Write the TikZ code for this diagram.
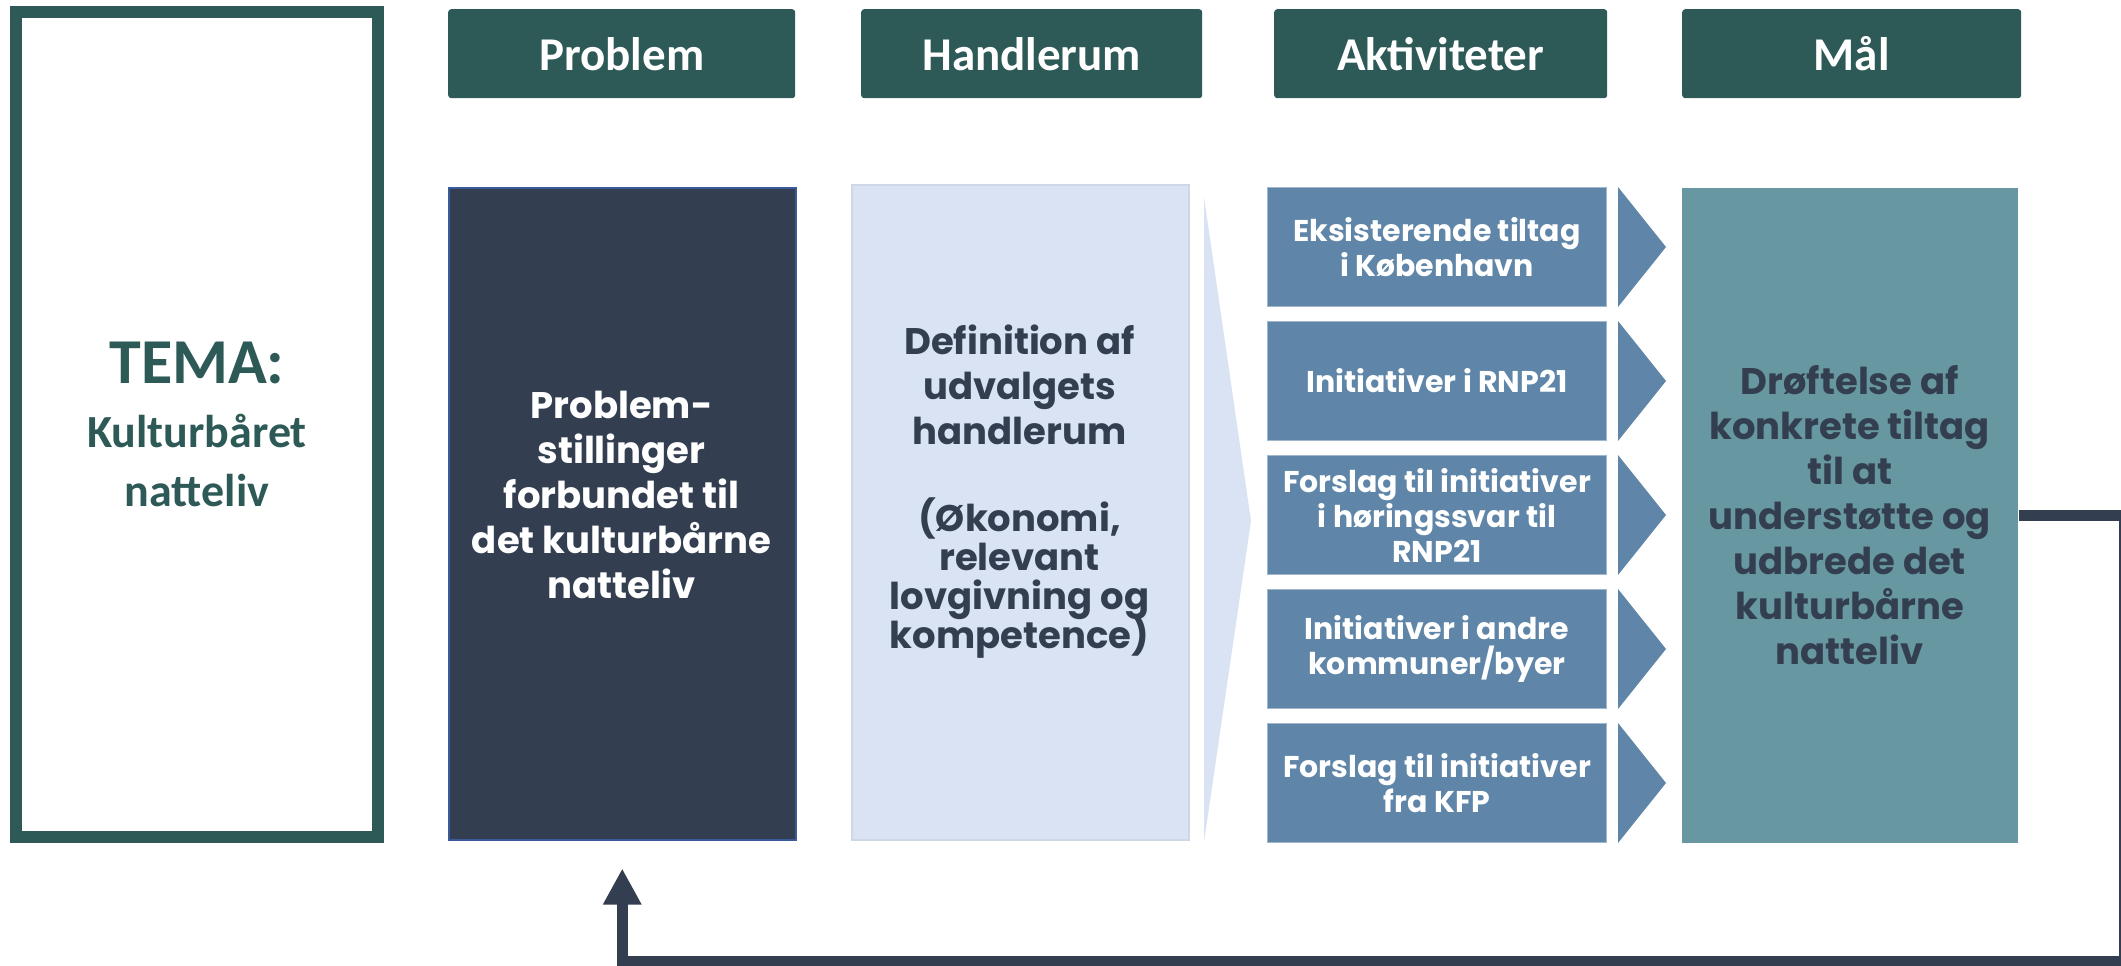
\documentclass[tikz,border=0pt]{standalone}
\usepackage{fontspec}
\usetikzlibrary{arrows.meta}
\newfontfamily\headfont{Carlito}
\newfontfamily\boxfont{Poppins}
\definecolor{temagreen}{HTML}{2D5A57}
\definecolor{probnavy}{HTML}{333F51}
\definecolor{probedge}{HTML}{3B5A9A}
\definecolor{roomblue}{HTML}{DAE3F3}
\definecolor{roomedge}{HTML}{CED7E6}
\definecolor{actblue}{HTML}{5F86A8}
\definecolor{goalteal}{HTML}{6797A0}

\begin{document}
\begin{tikzpicture}[x=1pt, y=-1pt,
    hdbox/.style={fill=temagreen, rounded corners=3pt, anchor=north west,
      minimum height=89pt, inner sep=0pt, text=white,
      font=\headfont\bfseries\fontsize{47}{52}\selectfont},
    bigbox/.style={anchor=north west, inner sep=0pt, line width=1.5pt},
    boxtext/.style={align=center, anchor=north, inner sep=0pt,
      font=\boxfont\bfseries\fontsize{37}{45}\selectfont},
    actbox/.style={fill=actblue, draw=actblue!60!white, line width=1pt,
      anchor=north west, minimum width=339pt, minimum height=119pt,
      inner sep=0pt, align=center, text=white,
      font=\boxfont\bfseries\fontsize{30}{35}\selectfont},
    fbline/.style={draw=probnavy, line width=11pt,
      -{Triangle[length=36pt, width=36pt]}}]
  \useasboundingbox (0,0) rectangle (2121,966);

  % Tema frame
  \node[draw=temagreen, line width=12pt, minimum width=362pt, minimum height=825pt,
    align=center, text=temagreen, font=\headfont\bfseries\fontsize{46}{59}\selectfont]
    (tema) at (197,424.5)
    {{\fontsize{64}{70}\selectfont TEMA:}\\[5pt]Kulturbåret\\natteliv};

  % column headers
  \node[hdbox, minimum width=347pt] (hprob) at (448,9) {Problem};
  \node[hdbox, minimum width=341pt] (hroom) at (861,9) {Handlerum};
  \node[hdbox, minimum width=333pt] (hact) at (1274,9) {Aktiviteter};
  \node[hdbox, minimum width=339pt] (hgoal) at (1682,9) {Mål};

  % Problem box
  \node[bigbox, fill=probnavy, draw=probedge, minimum width=347pt, minimum height=652pt]
    (prob) at (448,187) {};
  \node[boxtext, text=white] (probtxt) at (621.5,391)
    {Problem-\\stillinger\\forbundet til\\det kulturbårne\\natteliv};

  % Handlerum box and chevron
  \node[bigbox, fill=roomblue, draw=roomedge, minimum width=337pt, minimum height=655pt]
    (room) at (851,184) {};
  \node[boxtext, text=probnavy] (roomtxt) at (1019.5,325)
    {Definition af\\udvalgets\\handlerum\\[42pt](Økonomi,\\[-6pt]relevant\\[-6pt]lovgivning og\\[-6pt]kompetence)};
  \fill[roomblue] (1204,197) -- (1251,521) -- (1204,842) -- cycle;

  % activities with small arrows
  \foreach \i/\txt in {1/{Eksisterende tiltag\\i København},
      2/{Initiativer i RNP21},
      3/{Forslag til initiativer\\i høringssvar til\\RNP21},
      4/{Initiativer i andre\\kommuner/byer},
      5/{Forslag til initiativer\\fra KFP}} {
    \node[actbox] (a\i) at (1267,{187+(\i-1)*134}) {\txt};
    \fill[actblue] ([xshift=11pt]a\i.north east) -- ([xshift=59pt]a\i.east)
      -- ([xshift=11pt]a\i.south east) -- cycle;
  }

  % goal box
  \node[bigbox, fill=goalteal, minimum width=336pt, minimum height=655pt,
    align=center, text=probnavy, font=\boxfont\bfseries\fontsize{37}{45}\selectfont]
    (goal) at (1681,187)
    {Drøftelse af\\konkrete tiltag\\til at\\understøtte og\\udbrede det\\kulturbårne\\natteliv};

  % feedback loop
  \coordinate (fbright) at (2124,961);
  \coordinate (fbtip) at ([yshift=-28pt]prob.south);
  \draw[fbline] (goal.east) -| (fbright) -| (fbtip);
\end{tikzpicture}
\end{document}
